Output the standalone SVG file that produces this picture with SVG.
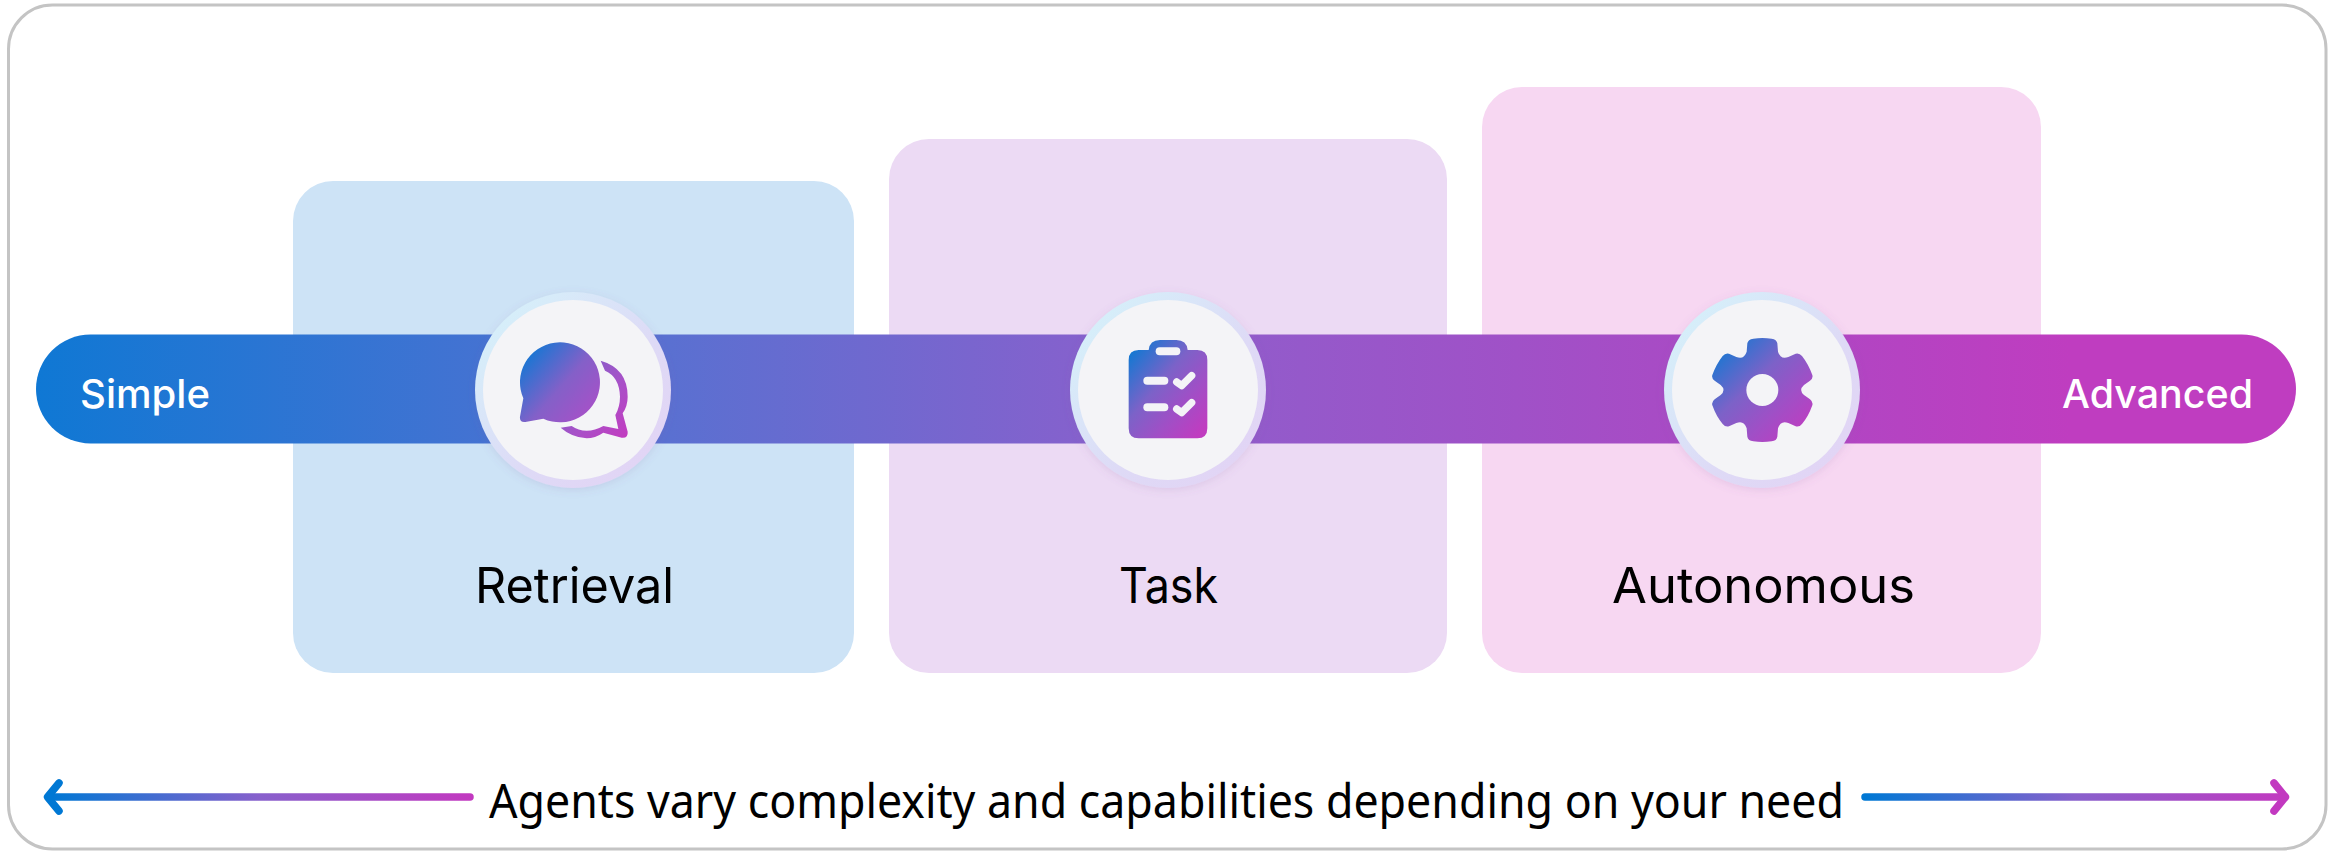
<svg xmlns="http://www.w3.org/2000/svg" width="2343" height="851" viewBox="0 0 2343 851">
<style>
text{font-family:"Inter","Noto Sans","Liberation Sans",sans-serif;fill:#000}
.card{stroke:none}
.lab{font-size:49px;text-anchor:start;font-weight:400}
.end{font-size:39px;font-weight:500;fill:#fff}
.cut{fill:#F4F4F7}
.ring{fill:url(#ring);filter:url(#sh)}
.in{fill:#F4F4F7}
.arr{fill:none;stroke-width:7.5;stroke-linecap:round;stroke-linejoin:round}
</style>
<defs>
<linearGradient id="bar" gradientUnits="userSpaceOnUse" x1="36" y1="0" x2="2296" y2="0"><stop offset="0" stop-color="#0F78D4"/><stop offset="0.28" stop-color="#5A70D1"/><stop offset="0.5" stop-color="#8E5ECC"/><stop offset="0.75" stop-color="#AB49C4"/><stop offset="0.9" stop-color="#BF3DC0"/><stop offset="1" stop-color="#BF3DC0"/></linearGradient>
<linearGradient id="ring" x1="0.1" y1="0.1" x2="0.9" y2="0.9"><stop offset="0" stop-color="#D5F0FA"/><stop offset="0.6" stop-color="#DEDAF6"/><stop offset="1" stop-color="#E2D4F5"/></linearGradient>
<linearGradient id="ic" x1="0.08" y1="0.08" x2="0.9" y2="0.95"><stop offset="0" stop-color="#1478D2"/><stop offset="0.4" stop-color="#7C62C8"/><stop offset="0.7" stop-color="#A04FC6"/><stop offset="1" stop-color="#C03CC0"/></linearGradient>
<linearGradient id="al" gradientUnits="userSpaceOnUse" x1="50" y1="0" x2="471" y2="0"><stop offset="0" stop-color="#0078D4"/><stop offset="0.5" stop-color="#8860CC"/><stop offset="1" stop-color="#C239C0"/></linearGradient>
<linearGradient id="ar" gradientUnits="userSpaceOnUse" x1="1865" y1="0" x2="2286" y2="0"><stop offset="0" stop-color="#0078D4"/><stop offset="0.5" stop-color="#8860CC"/><stop offset="1" stop-color="#C239C0"/></linearGradient>
<linearGradient id="chat" gradientUnits="userSpaceOnUse" x1="200" y1="210" x2="500" y2="470"><stop offset="0" stop-color="#0F78D4"/><stop offset="0.38" stop-color="#8460C8"/><stop offset="0.7" stop-color="#A850C8"/><stop offset="1" stop-color="#C23CC0"/></linearGradient>
<filter id="sh" x="-20%" y="-20%" width="140%" height="140%"><feDropShadow dx="0" dy="2" stdDeviation="4" flood-color="#8060A0" flood-opacity="0.15"/></filter>
</defs>
<rect width="2343" height="851" fill="#fff"/>
<rect id="frame" x="8.500" y="5" width="2317.500" height="844" rx="44" fill="#fff" stroke="#C4C4C4" stroke-width="3"/>
<g id="card-retrieval"><rect class="card" x="293" y="181" width="561" height="492" rx="40" fill="#CDE3F6"/></g>
<g id="card-task"><rect class="card" x="889" y="139" width="558" height="534" rx="40" fill="#ECDAF4"/></g>
<g id="card-autonomous"><rect class="card" x="1482" y="87" width="559" height="586" rx="40" fill="#F7D7F2"/></g>
<g id="bar-track"><rect x="36" y="334.500" width="2260" height="109" rx="54.500" fill="url(#bar)"/>
<text class="end" x="80" y="408" textLength="130" lengthAdjust="spacingAndGlyphs">Simple</text>
<text class="end" x="2062" y="408" textLength="191" lengthAdjust="spacingAndGlyphs">Advanced</text></g>
<g id="node-retrieval">
<circle class="ring" cx="573" cy="390" r="98"/><circle class="in" cx="573" cy="390" r="90"/>
<g transform="translate(460 280) scale(.33333)" fill="url(#chat)">
<path d="M190 355L180 410Q178 428 196 426L250 416A120 120 0 1 0 190 355Z"/>
<path d="M422 242Q503 265 503 350Q503 378 488 400L503 455Q505 475 485 473L430 458Q405 475 380 475Q335 472 302 443L335 438Q355 452 380 452Q405 452 430 438L475 447L466 405Q480 380 480 350Q478 290 435 272Z"/>
</g>
<text class="lab" x="475" y="603" textLength="199" lengthAdjust="spacingAndGlyphs">Retrieval</text></g>
<g id="node-task">
<circle class="ring" cx="1168" cy="390" r="98"/><circle class="in" cx="1168" cy="390" r="90"/>
<g transform="translate(1055 280) scale(.33333)">
<path fill="url(#ic)" d="M251 210H281Q284 180 315 180H364Q395 180 398 210H427Q457 210 457 240V445Q457 475 427 475H251Q221 475 221 445V240Q221 210 251 210Z"/>
<rect class="cut" x="302" y="202" width="74" height="24" rx="12"/>
<rect class="cut" x="265" y="290" width="75" height="24" rx="12"/>
<rect class="cut" x="265" y="370" width="75" height="24" rx="12"/>
<path d="M365 306L380 317L410 287M365 387L380 398L410 368" fill="none" stroke="#F4F4F7" stroke-width="22" stroke-linecap="round" stroke-linejoin="round"/>
</g>
<text class="lab" x="1119" y="603" textLength="99" lengthAdjust="spacingAndGlyphs">Task</text></g>
<g id="node-autonomous">
<circle class="ring" cx="1762" cy="390" r="98"/><circle class="in" cx="1762" cy="390" r="90"/>
<g transform="translate(1650 280) scale(.33333)">
<path fill="url(#ic)" d="M292 190Q294 178 310 176Q337 172 365 176Q380 178 382 190L384 215Q392 240 415 231L437 221Q448 218 456 228Q475 252 487 285Q490 295 480 302L462 315Q445 330 462 345L480 358Q490 366 487 376Q475 410 456 432Q448 442 437 439L415 429Q392 420 384 445L382 470Q380 482 365 484Q337 488 310 484Q294 482 292 470L290 445Q282 420 259 429L237 439Q226 442 218 432Q199 410 187 376Q184 366 194 358L212 345Q229 330 212 315L194 302Q184 295 187 285Q199 252 218 228Q226 218 237 221L259 231Q282 240 290 215Z"/>
<circle class="cut" cx="337" cy="330" r="48"/>
</g>
<text class="lab" x="1612" y="603" textLength="303" lengthAdjust="spacingAndGlyphs">Autonomous</text></g>
<g id="connectors">
<path class="arr" stroke="url(#al)" d="M470 797H50"/>
<path class="arr" stroke="#0078D4" d="M59 783L47.500 797L59 811"/>
<path class="arr" stroke="url(#ar)" d="M1865 797H2282"/>
<path class="arr" stroke="#C239C0" d="M2274 783L2285.500 797L2274 811"/>
</g>
<text id="caption" x="489" y="818" style="font-family:'Noto Sans','Open Sans',sans-serif;font-size:47px" textLength="1355" lengthAdjust="spacingAndGlyphs">Agents vary complexity and capabilities depending on your need</text>
</svg>
